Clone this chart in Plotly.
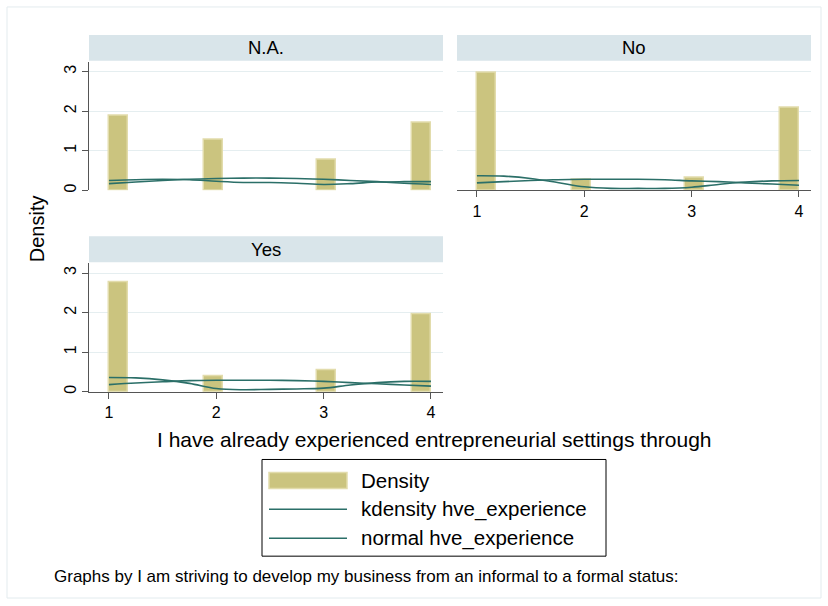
import plotly.graph_objects as go

W, H = 828, 606

# ---------------- data ----------------
panels = ["N.A.", "No", "Yes"]
n_bins = 17
bin_index = [0, 5, 11, 16]          # occupied histogram bins (of 17 between 1 and 4)
density_na = [1.89, 1.28, 0.78, 1.70]
density_no = [2.98, 0.26, 0.33, 2.09]
density_yes = [2.77, 0.40, 0.55, 1.96]

curve_x = [1, 1.25, 1.5, 1.75, 2, 2.25, 2.5, 2.75, 3, 3.25, 3.5, 3.75, 4]
kdens_na = [0.25, 0.27, 0.28, 0.27, 0.23, 0.20, 0.20, 0.18, 0.15, 0.17, 0.21, 0.22, 0.22]
kdens_no = [0.37, 0.36, 0.30, 0.20, 0.09, 0.05, 0.05, 0.05, 0.08, 0.15, 0.21, 0.24, 0.25]
kdens_yes = [0.36, 0.35, 0.30, 0.21, 0.08, 0.05, 0.06, 0.07, 0.09, 0.17, 0.23, 0.26, 0.26]
normal_na = [0.17, 0.21, 0.25, 0.28, 0.30, 0.31, 0.31, 0.30, 0.28, 0.25, 0.22, 0.18, 0.15]
normal_no = [0.19, 0.22, 0.25, 0.27, 0.28, 0.28, 0.28, 0.27, 0.24, 0.22, 0.19, 0.16, 0.13]
normal_yes = [0.18, 0.22, 0.25, 0.28, 0.29, 0.29, 0.29, 0.28, 0.26, 0.23, 0.20, 0.17, 0.14]

x_ticks = [1, 2, 3, 4]
y_ticks = [0, 1, 2, 3]
legend_labels = ["Density", "kdensity hve_experience", "normal hve_experience"]
x_title = "I have already experienced entrepreneurial settings through"
y_title = "Density"
note = "Graphs by I am striving to develop my business from an informal to a formal status:"

# ---------------- style ----------------
FONT = "Liberation Sans, Arial, sans-serif"
BAR_FILL = "#cbc47f"
BAR_EDGE = "#e2dcac"
LINE_COL = "#2b6f68"
STRIP = "#d9e5ea"
GRID = "#e5eef0"
AXIS = "#555555"

def px(x):
    return x / W

def py(y):
    return 1 - y / H

bin_w = 3 / n_bins
bin_centers = [1 + (i + 0.5) * bin_w for i in bin_index]

fig = go.Figure()

data_sets = [(density_na, kdens_na, normal_na),
             (density_no, kdens_no, normal_no),
             (density_yes, kdens_yes, normal_yes)]
axes = [("x", "y"), ("x2", "y2"), ("x3", "y3")]

for (dens, kd, nm), (xa, ya) in zip(data_sets, axes):
    fig.add_trace(go.Bar(x=bin_centers, y=dens, width=bin_w, xaxis=xa, yaxis=ya,
                         marker=dict(color=BAR_FILL, line=dict(color=BAR_EDGE, width=1.5)),
                         showlegend=False, name="Density"))
    fig.add_trace(go.Scatter(x=curve_x, y=kd, mode="lines", xaxis=xa, yaxis=ya,
                             line=dict(color=LINE_COL, width=1.6, shape="spline"),
                             showlegend=False, name="kdensity hve_experience"))
    fig.add_trace(go.Scatter(x=curve_x, y=nm, mode="lines", xaxis=xa, yaxis=ya,
                             line=dict(color=LINE_COL, width=1.6, shape="spline"),
                             showlegend=False, name="normal hve_experience"))

# panel geometry (pixels)
geo = {
    "p1": dict(x0=89, x1=443, top=62, bottom=191, strip=(35, 61)),
    "p2": dict(x0=457, x1=811, top=62, bottom=191, strip=(35, 61)),
    "p3": dict(x0=89, x1=443, top=264, bottom=393, strip=(237, 263)),
}
xr = [0.814, 4.112]
yr = [0, 3.25]

def xaxis_cfg(g, show):
    return dict(domain=[px(g["x0"]), px(g["x1"])], range=xr, tickvals=x_ticks,
                showgrid=False, zeroline=False, fixedrange=True,
                showline=show, linecolor=AXIS, linewidth=1,
                ticks="outside" if show else "", ticklen=6, tickcolor=AXIS,
                showticklabels=show, tickfont=dict(size=16, color="black", family=FONT))

def yaxis_cfg(g, show):
    return dict(domain=[py(g["bottom"]), py(g["top"])], range=yr, tickvals=y_ticks,
                showgrid=True, gridcolor=GRID, gridwidth=1, zeroline=False, fixedrange=True,
                showline=show, linecolor=AXIS, linewidth=1,
                ticks="outside" if show else "", ticklen=6, tickcolor=AXIS,
                showticklabels=show, tickangle=-90,
                tickfont=dict(size=16, color="black", family=FONT))

fig.update_layout(
    xaxis=dict(**xaxis_cfg(geo["p1"], False), anchor="y"),
    yaxis=dict(**yaxis_cfg(geo["p1"], True), anchor="x"),
    xaxis2=dict(**xaxis_cfg(geo["p2"], True), anchor="y2"),
    yaxis2=dict(**yaxis_cfg(geo["p2"], False), anchor="x2"),
    xaxis3=dict(**xaxis_cfg(geo["p3"], True), anchor="y3"),
    yaxis3=dict(**yaxis_cfg(geo["p3"], True), anchor="x3"),
)

shapes = []
annotations = []
# outer frame
shapes.append(dict(type="rect", xref="paper", yref="paper", x0=px(7), x1=px(821), y0=py(600), y1=py(7),
                   line=dict(color="#e3ebee", width=1), fillcolor="rgba(0,0,0,0)", layer="below"))
# strips
for key, title in zip(["p1", "p2", "p3"], panels):
    g = geo[key]
    s0, s1 = g["strip"]
    shapes.append(dict(type="rect", xref="paper", yref="paper", x0=px(g["x0"]), x1=px(g["x1"]),
                       y0=py(s1), y1=py(s0), fillcolor=STRIP, line=dict(width=0), layer="below"))
    annotations.append(dict(text=title, xref="paper", yref="paper", x=px((g["x0"] + g["x1"]) / 2),
                            y=py((s0 + s1) / 2), showarrow=False, xanchor="center", yanchor="middle",
                            font=dict(size=18.5, color="black", family=FONT)))

# axis titles and note
annotations.append(dict(text=y_title, xref="paper", yref="paper", x=px(37), y=py(230), textangle=-90,
                        showarrow=False, xanchor="center", yanchor="middle",
                        font=dict(size=20, color="black", family=FONT)))
annotations.append(dict(text=x_title, xref="paper", yref="paper", x=px(434), y=py(441),
                        showarrow=False, xanchor="center", yanchor="middle",
                        font=dict(size=21, color="black", family=FONT)))
annotations.append(dict(text=note, xref="paper", yref="paper", x=px(52), y=py(578),
                        showarrow=False, xanchor="left", yanchor="middle",
                        font=dict(size=17, color="black", family=FONT)))

# legend box (drawn)
shapes.append(dict(type="rect", xref="paper", yref="paper", x0=px(262), x1=px(606), y0=py(558), y1=py(461),
                   line=dict(color="black", width=1), fillcolor="white"))
shapes.append(dict(type="rect", xref="paper", yref="paper", x0=px(269), x1=px(347), y0=py(490), y1=py(474),
                   fillcolor=BAR_FILL, line=dict(color=BAR_EDGE, width=1.5)))
for yy in [511, 540]:
    shapes.append(dict(type="line", xref="paper", yref="paper", x0=px(269), x1=px(347), y0=py(yy), y1=py(yy),
                       line=dict(color=LINE_COL, width=1.6)))
for lab, yy in zip(legend_labels, [482, 511, 540]):
    annotations.append(dict(text=lab, xref="paper", yref="paper", x=px(359), y=py(yy),
                            showarrow=False, xanchor="left", yanchor="middle",
                            font=dict(size=20.5, color="black", family=FONT)))

fig.update_layout(
    width=W, height=H, margin=dict(l=0, r=0, t=0, b=0),
    paper_bgcolor="white", plot_bgcolor="white",
    shapes=shapes, annotations=annotations, showlegend=False,
    bargap=0, font=dict(family=FONT),
)

fig.write_html("out.html", config={"displayModeBar": False},
               post_script="document.body.style.margin='0px';")
